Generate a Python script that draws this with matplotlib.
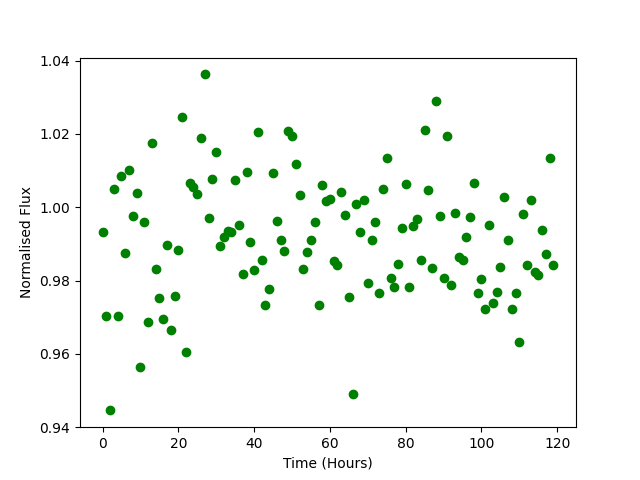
import numpy as np
import matplotlib
matplotlib.use("Agg")
import matplotlib.pyplot as plt

hours = list(range(120))
flux = [
    0.9933, 0.9702, 0.9448, 1.0050, 0.9704, 1.0086, 0.9876, 1.0102, 0.9977, 1.0040,
    0.9563, 0.9960, 0.9686, 1.0176, 0.9832, 0.9753, 0.9694, 0.9896, 0.9666, 0.9759,
    0.9884, 1.0247, 0.9604, 1.0066, 1.0056, 1.0037, 1.0190, 1.0364, 0.9971, 1.0078,
    1.0151, 0.9893, 0.9920, 0.9935, 0.9931, 1.0075, 0.9952, 0.9819, 1.0097, 0.9905,
    0.9830, 1.0206, 0.9857, 0.9734, 0.9778, 1.0092, 0.9963, 0.9911, 0.9881, 1.0207,
    1.0193, 1.0117, 1.0034, 0.9832, 0.9879, 0.9911, 0.9960, 0.9734, 1.0061, 1.0018,
    1.0022, 0.9852, 0.9841, 1.0042, 0.9980, 0.9756, 0.9490, 1.0010, 0.9931, 1.0020,
    0.9794, 0.9910, 0.9960, 0.9767, 1.0050, 1.0135, 0.9806, 0.9781, 0.9846, 0.9942,
    1.0064, 0.9783, 0.9948, 0.9969, 0.9857, 1.0211, 1.0048, 0.9835, 1.0290, 0.9977,
    0.9808, 1.0193, 0.9789, 0.9985, 0.9863, 0.9857, 0.9918, 0.9974, 1.0067, 0.9765,
    0.9805, 0.9721, 0.9952, 0.9738, 0.9768, 0.9838, 1.0029, 0.9911, 0.9723, 0.9765,
    0.9631, 0.9982, 0.9841, 1.0020, 0.9824, 0.9814, 0.9939, 0.9873, 1.0133, 0.9841,
]

fig, ax = plt.subplots(figsize=(6.4, 4.8), dpi=100)
ax.plot(hours, flux, 'o', color='green')
ax.set_ylim(0.93999, 1.0408)
ax.set_xlabel('Time (Hours)')
ax.set_ylabel('Normalised Flux')
fig.savefig('out.png')
